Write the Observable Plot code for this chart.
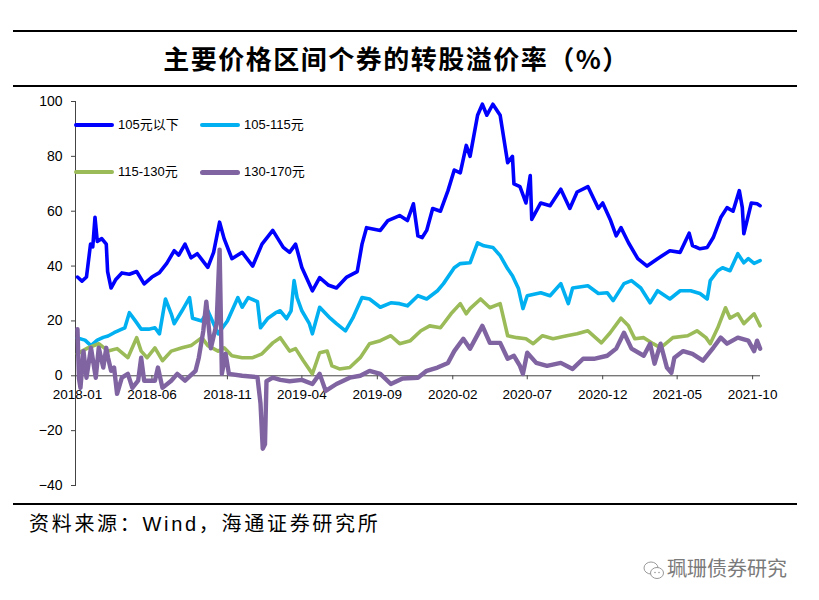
<!DOCTYPE html>
<html>
<head>
<meta charset="utf-8">
<script src="https://cdn.jsdelivr.net/npm/d3@7"></script>
<script src="https://cdn.jsdelivr.net/npm/@observablehq/plot@0.6"></script>
<style>
  html, body { margin: 0; padding: 0; background: #fff; }
  #wrap { position: relative; width: 819px; height: 600px; overflow: hidden; background: #fff;
          font-family: "Liberation Sans", Arial, "Noto Sans CJK SC", sans-serif; color: #000; }
  .hr { position: absolute; left: 13px; width: 784px; height: 2px; background: #000; }
  #title { position: absolute; top: 42px; left: 0; width: 793px; text-align: center;
           font-family: "Noto Sans CJK SC", sans-serif; font-weight: 700; font-size: 26px;
           line-height: 32px; letter-spacing: 1.5px; }
  #chart { position: absolute; top: 88px; left: 0; }
  #legend { position: absolute; left: 0; top: 0; width: 819px; height: 0; }
  .sw { position: absolute; border-radius: 3px; }
  .lt { position: absolute; font-size: 13px; line-height: 16px; white-space: nowrap;
        font-family: "Liberation Sans", Arial, "Noto Sans CJK SC", sans-serif; }
  #source { position: absolute; left: 29px; top: 511px; font-size: 20px; line-height: 26px;
            letter-spacing: 2.7px; white-space: nowrap;
            font-family: "Liberation Sans", Arial, "Noto Sans CJK SC", sans-serif; }
  #wm { position: absolute; left: 643px; top: 553px; height: 30px; white-space: nowrap; color: #7a7a7a;
        font-family: "Noto Sans CJK SC", sans-serif; font-size: 20px; line-height: 30px; }
  #wm svg { vertical-align: middle; margin-right: 2px; }
</style>
</head>
<body>
<div id="wrap">
  <div class="hr" style="top:30px"></div>
  <div id="title">主要价格区间个券的转股溢价率（%）</div>
  <div class="hr" style="top:85px"></div>
  <div id="chart"></div>
  <div id="legend"></div>
  <div class="hr" style="top:503px"></div>
  <div id="source">资料来源：Wind，海通证券研究所</div>
  <div id="wm"><svg width="22" height="22" viewBox="0 0 22 22">
      <ellipse cx="8" cy="8" rx="7" ry="6" fill="none" stroke="#999" stroke-width="1"/>
      <ellipse cx="14" cy="13" rx="6.5" ry="5.5" fill="#fff" stroke="#999" stroke-width="1"/>
      <circle cx="12" cy="12.5" r="0.8" fill="#999"/><circle cx="16" cy="12.5" r="0.8" fill="#999"/>
    </svg>珮珊债券研究</div>
</div>
<script>
// ---- Data (months since 2018-01-01, values in %) ----
const seriesNames = ["105元以下", "105-115元", "115-130元", "130-170元"];
const seriesColors = ["#0000FF", "#00B0F0", "#9BBB59", "#8064A2"];

const monthsBelow105 = [0,0.3,0.6,0.87,1.0,1.15,1.3,1.6,1.9,2.07,2.3,2.6,3.0,3.5,4.0,4.5,5.0,5.5,6.0,6.5,6.8,7.2,7.6,8.0,8.7,9.1,9.5,9.8,10.3,11.0,11.7,12.3,13.0,13.7,14.2,14.6,15.0,15.7,16.2,16.8,17.3,18.0,18.7,19.0,19.3,20.2,20.7,21.5,22.0,22.4,22.7,23.0,23.3,23.7,24.2,24.7,25.1,25.5,25.9,26.2,26.7,27.0,27.3,27.7,28.2,28.7,29.0,29.1,29.5,29.9,30.2,30.3,30.9,31.5,32.2,32.8,33.3,34.0,34.7,35.0,35.5,35.9,36.2,36.7,37.3,38.0,38.7,39.5,40.2,40.8,41.0,41.5,42.0,42.4,42.9,43.3,43.7,44.1,44.3,44.4,44.9,45.3,45.5];
const valuesBelow105 = [36,34.5,36,48,47,57.8,49,50,48,38,32,35,37.5,37,38,33.5,36,37.6,41,45.6,44,48,43,44.5,39.5,45,56,50,42.7,45,40,48,53,46.8,45,48,39.5,31,35.8,33,32,36,38,48,54,53,56.6,58.4,56.6,62.7,51,50.4,53,61,60,67.5,75,74,84,80,95,99,95,99,95,77.7,80,70,69,63,73,57,63,62,68,61,67,69,61,63,57,51,54,48.5,42.7,40,42.7,45.6,45,52,47.5,46.3,46.8,50.4,57.7,61.3,60,67.5,61.3,51.8,63,62.7,62];

const months105to115 = [0,0.5,0.9,1.3,1.7,2.1,2.5,3.0,3.2,3.5,3.9,4.3,4.8,5.2,5.5,5.9,6.3,6.5,7.0,7.5,7.7,8.3,8.7,9.4,10.0,10.7,11.0,11.4,12.0,12.2,12.7,13.2,13.5,14.0,14.3,14.5,14.7,15.0,15.5,15.7,16.2,16.9,17.3,17.9,18.4,19.0,19.5,20.2,20.9,21.5,22.0,22.7,23.3,24.0,24.4,25.1,25.5,26.2,26.7,27.1,27.7,28.2,28.7,29.0,29.4,29.7,30.0,30.9,31.5,32.2,32.7,33.0,34.0,34.7,35.3,35.7,36.4,36.9,37.5,38.2,38.7,39.5,40.2,40.9,41.5,42.0,42.2,42.7,43.0,43.5,44.0,44.4,44.7,45.1,45.5];
const values105to115 = [13.8,13,11,13,14,14.5,15.7,17,17.5,23,20,17,17,17.5,15.3,28,22.6,19,23.7,28.5,21,20,23.7,15.3,20,28.5,25,28.5,27,17.5,21,23,23.7,20.8,23.7,34.7,28.5,23.7,19,15.3,25,21,19,16.4,21,28.5,28,25,26.6,26.3,25.5,29.2,28,31,33.6,39.4,40.9,41.2,48.5,47.4,46.8,43.8,39,36.5,31.8,24.5,29.2,30.3,29.2,33.6,26.3,32,32.8,30,30.3,27.4,33.6,34.7,32,26.6,31,28,31,31,30,28,34.7,38.3,39.4,38.3,44.5,41.2,42.7,41,42];

const months115to130 = [0,0.3,0.7,1.4,1.8,2.1,2.7,3.4,4.0,4.3,4.7,5.2,5.7,6.3,7.0,7.6,8.3,8.7,9.4,9.8,10.3,11.0,11.7,12.3,13.0,13.5,14.2,14.6,15.1,15.7,16.2,16.7,17.0,17.5,18.2,18.9,19.5,20.2,20.9,21.5,22.2,22.9,23.5,24.2,24.9,25.5,25.9,26.2,26.9,27.5,28.2,28.5,28.7,29.3,29.9,30.4,31.0,31.7,32.6,33.3,34.0,34.9,35.5,36.2,36.7,37.1,37.7,38.4,38.9,39.7,40.7,41.3,41.9,42.2,42.7,43.2,43.5,44.0,44.4,45.1,45.5];
const values115to130 = [8,9,10.2,11.7,10,9,9.9,6.6,13.9,9,6.6,10.2,5.5,9,10.2,11,13.9,11,9,10.2,7.3,6.6,6.6,8,12,13.9,9,9.9,5.5,0.7,8.4,9,3.6,2.5,3,6.6,11.7,12.8,14.6,11.7,12.8,16.4,18.2,17.5,22.6,26.3,22.6,24.5,28,24.8,26.3,19.3,14.6,13.9,13.5,11.7,14.6,13.5,14.6,15.3,16.4,12,15.7,21,18.2,13.5,13.9,11.7,10.2,13.9,14.6,16.4,13.9,11.7,17.5,24.8,21,22.6,19,22.6,18.2];

const months130to170 = [0,0.1,0.2,0.4,0.6,0.9,1.2,1.4,1.7,1.9,2.1,2.3,2.5,2.7,3.0,3.4,3.7,4.1,4.3,4.5,5.2,5.4,5.7,6.3,6.7,7.2,7.9,8.1,8.4,8.6,8.9,9.3,9.5,9.65,9.9,10.1,11.0,12.0,12.2,12.35,12.5,12.6,13.0,13.5,14.2,15.0,15.7,16.2,16.6,17.3,18.2,18.9,19.5,20.2,20.9,21.7,22.7,23.3,24.0,24.7,25.1,25.7,26.2,27.0,27.5,28.2,28.7,29.1,29.5,29.7,30.0,30.6,31.3,32.2,33.0,33.7,34.4,35.3,35.9,36.4,36.9,37.7,38.2,38.5,38.9,39.3,39.6,39.8,40.4,41.0,41.7,42.4,42.9,43.3,44.0,44.7,45.1,45.3,45.5];
const values130to170 = [17,-1,-4.4,9,-0.7,10.2,-0.7,10.2,3,10.2,6.6,1.8,3,-6.6,-0.7,0.7,-4.4,-1.8,6.6,-1.8,-1.8,3,-4.4,-1.8,0.7,-1.8,1.8,6.6,16.4,27,10,19,46,0.7,8,0.7,0,-0.5,-10,-26.6,-25,-2,-0.7,-1.5,-2,-1.5,-3,0.7,-5.5,-3,-0.7,0,1.8,0.7,-3,-1,-0.7,1.8,3,4.7,9,13.5,9.9,18.2,12,12,6.2,7.3,3.6,0.7,8.4,4.7,3.6,4.7,2.5,6.2,6.2,7.3,9.9,15.7,9.9,7.3,11.7,4.4,11.7,3,1.1,6.6,9,8,5.5,10.2,13.9,11.7,13.9,12.8,9,12.8,9.9];

const xTickLabels = ["2018-01","2018-06","2018-11","2019-04","2019-09","2020-02","2020-07","2020-12","2021-05","2021-10"];
const yTicks = [-40, -20, 0, 20, 40, 60, 80, 100];

// ---- Build tables ----
const toDate = m => { const k = Math.floor(m); return new Date(Date.UTC(2018, k, 1) + (m - k) * 30.44 * 864e5); };
const monthsList = [monthsBelow105, months105to115, months115to130, months130to170];
const valuesList = [valuesBelow105, values105to115, values115to130, values130to170];
const tables = seriesNames.map((name, s) => monthsList[s].map((m, i) => ({date: toDate(m), value: valuesList[s][i], series: name})));
const xTickDates = xTickLabels.map(l => new Date(l + "-01T00:00:00Z"));
const widths = [3.6, 3.6, 3.6, 4.4];

const chart = Plot.plot({
  width: 819,
  height: 415,
  marginLeft: 75,
  marginRight: 59,
  marginTop: 13,
  marginBottom: 18,
  x: {type: "utc", domain: [new Date("2017-12-28T00:00:00Z"), new Date("2021-10-17T00:00:00Z")], axis: null},
  y: {domain: [-40, 100]},
  style: {fontFamily: "Liberation Sans, Arial, sans-serif", fontSize: "13.5px", color: "#000", background: "#fff", overflow: "visible"},
  marks: [
    Plot.axisY(yTicks, {tickSize: 4, tickPadding: 9, label: null, fontSize: 14, stroke: "#444"}),
    Plot.frame({anchor: "left", stroke: "#444"}),
    Plot.ruleY([0], {stroke: "#444"}),
    Plot.ruleX(xTickDates, {x: d => d, y1: 0, y2: 0, insetBottom: -4, stroke: "#444"}),
    Plot.text(xTickDates, {x: d => d, y: 0, dy: 19, text: (d, i) => xTickLabels[i], fontSize: 13.5, fill: "#000"}),
    ...tables.map((t, s) => Plot.line(t, {x: "date", y: "value", stroke: seriesColors[s], strokeWidth: widths[s], strokeLinejoin: "round", strokeLinecap: "round"}))
  ]
});
document.getElementById("chart").appendChild(chart);

// ---- Legend (HTML) ----
const legend = document.getElementById("legend");
const legendPos = [[74, 125], [200, 125], [74, 172], [200, 172]];
const swatchH = [3.5, 3.5, 3.5, 5];
seriesNames.forEach((name, i) => {
  const [lx, ly] = legendPos[i];
  const sw = document.createElement("div");
  sw.className = "sw";
  sw.style.cssText = `left:${lx}px;top:${ly - swatchH[i] / 2}px;width:40px;height:${swatchH[i]}px;background:${seriesColors[i]};`;
  legend.appendChild(sw);
  const tx = document.createElement("div");
  tx.className = "lt";
  tx.style.cssText = `left:${lx + 44}px;top:${ly - 8}px;`;
  tx.textContent = name;
  legend.appendChild(tx);
});
</script>
</body>
</html>
